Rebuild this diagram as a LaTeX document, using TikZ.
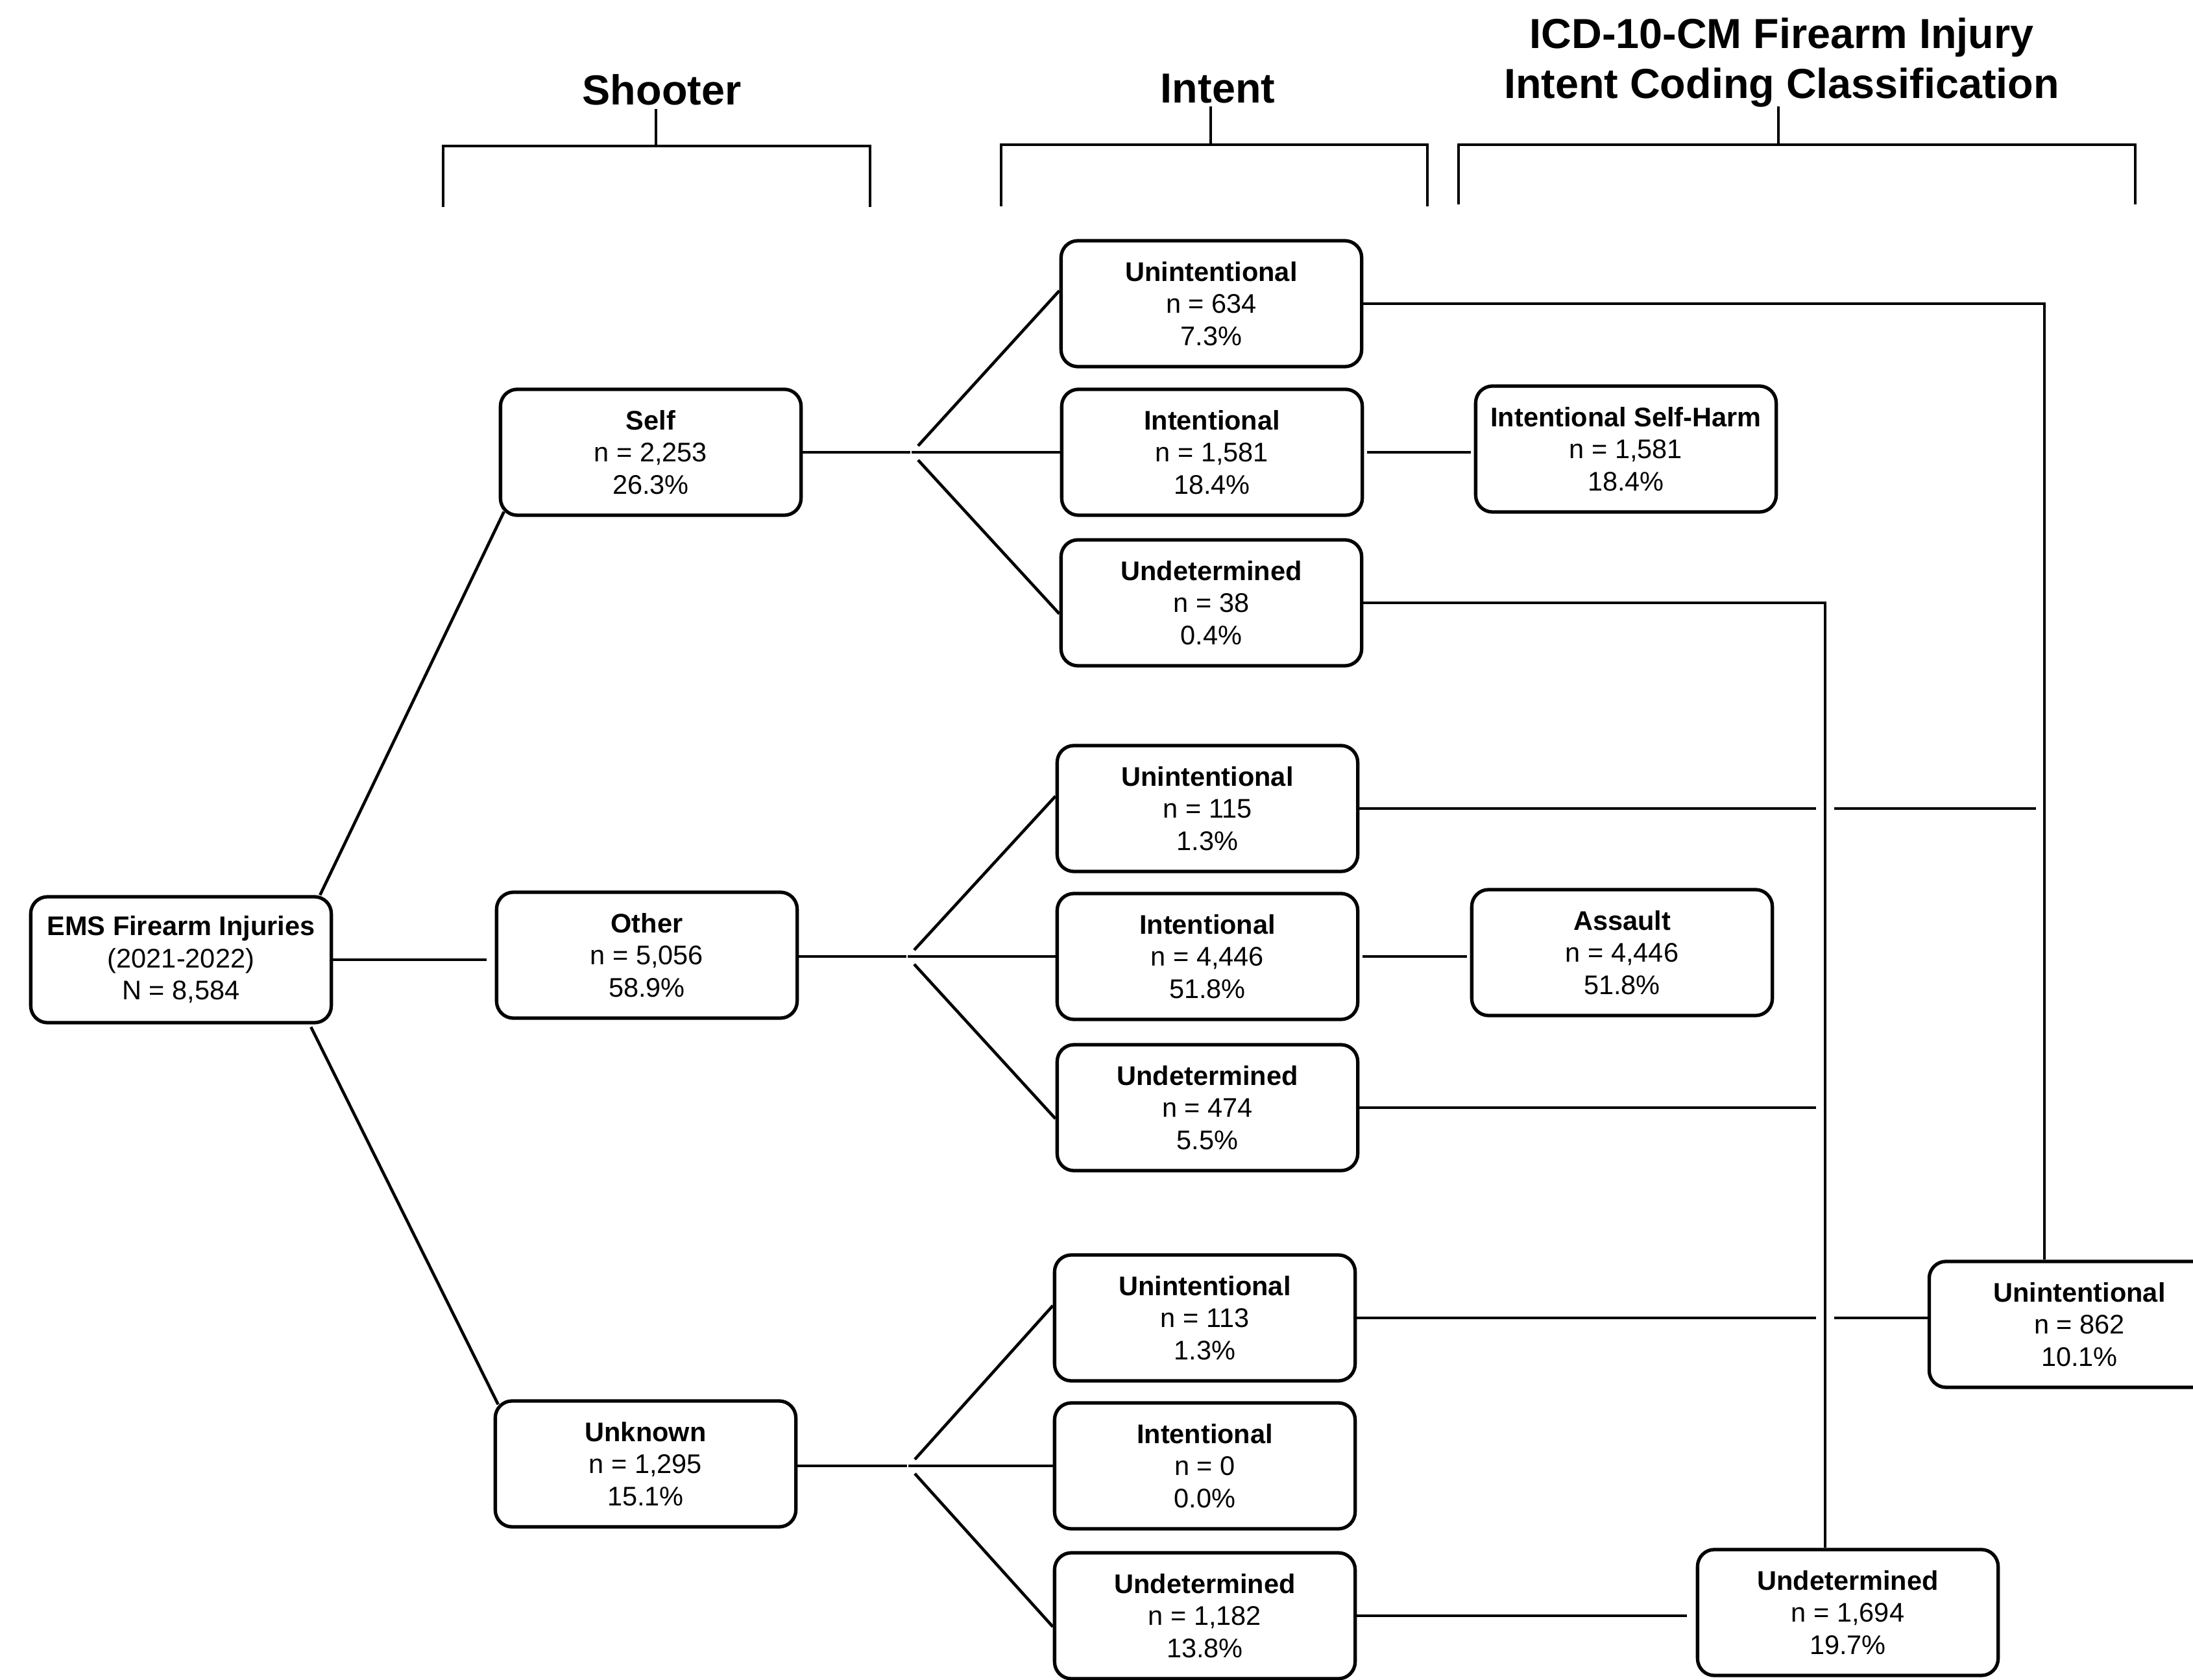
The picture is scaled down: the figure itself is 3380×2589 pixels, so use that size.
\documentclass[tikz,border=0pt]{standalone}
\usepackage{fontspec}
\setmainfont{Liberation Sans}
\usetikzlibrary{calc}
\begin{document}
\begin{tikzpicture}[x=0.01cm,y=-0.01cm,
  box/.style={draw, rounded corners=0.26cm, line width=1.5pt, minimum width=4.63cm, minimum height=1.94cm, align=center, inner sep=0pt, font=\fontsize{11.8}{14.1}\selectfont},
  conn/.style={line width=1.3pt},
  brk/.style={line width=1.4pt},
  hdr/.style={font=\bfseries\fontsize{18.4}{21.9}\selectfont, align=center, anchor=base, inner sep=0pt}]
\useasboundingbox (0,0) rectangle (3380,2589);
% headers
\node[hdr] (hshooter) at (1020,162) {Shooter};
\node[hdr] (hintent) at (1877,159) {Intent};
\node[hdr] (hicd) at (2746,152) {ICD-10-CM Firearm Injury\\Intent Coding Classification};
\draw[brk] (683,319) -- (683,225) -- (1341,225) -- (1341,319);
\draw[brk] (1011,168) -- (1011,225);
\draw[brk] (1543,318) -- (1543,223) -- (2200,223) -- (2200,318);
\draw[brk] (1866,164) -- (1866,223);
\draw[brk] (2248,315) -- (2248,223) -- (3291,223) -- (3291,315);
\draw[brk] (2741,164) -- (2741,223);
% nodes
\node[box] (root) at (279,1479) {\textbf{EMS Firearm Injuries}\\(2021-2022)\\N = 8,584};
\node[box] (self) at (1003,697) {\textbf{Self}\\n = 2,253\\26.3\%};
\node[box] (other) at (997,1472) {\textbf{Other}\\n = 5,056\\58.9\%};
\node[box] (unknown) at (995,2256) {\textbf{Unknown}\\n = 1,295\\15.1\%};
\node[box] (su) at (1867,468) {\textbf{Unintentional}\\n = 634\\7.3\%};
\node[box] (si) at (1868,697) {\textbf{Intentional}\\n = 1,581\\18.4\%};
\node[box] (sd) at (1867,929) {\textbf{Undetermined}\\n = 38\\0.4\%};
\node[box] (ou) at (1861,1246) {\textbf{Unintentional}\\n = 115\\1.3\%};
\node[box] (oi) at (1861,1474) {\textbf{Intentional}\\n = 4,446\\51.8\%};
\node[box] (od) at (1861,1707) {\textbf{Undetermined}\\n = 474\\5.5\%};
\node[box] (ku) at (1857,2031) {\textbf{Unintentional}\\n = 113\\1.3\%};
\node[box] (ki) at (1857,2259) {\textbf{Intentional}\\n = 0\\0.0\%};
\node[box] (kd) at (1857,2490) {\textbf{Undetermined}\\n = 1,182\\13.8\%};
\node[box] (harm) at (2506,692) {\textbf{Intentional Self-Harm}\\n = 1,581\\18.4\%};
\node[box] (assault) at (2500,1468) {\textbf{Assault}\\n = 4,446\\51.8\%};
\node[box] (u862) at (3205,2041) {\textbf{Unintentional}\\n = 862\\10.1\%};
\node[box] (und) at (2848,2485) {\textbf{Undetermined}\\n = 1,694\\19.7\%};
% root connectors
\draw[conn] ($(root.north east)+(-20,0)$) -- ($(self.south west)+(8,-8)$);
\draw[conn, shorten >=0.13cm] (root.east) -- (root.east -| other.west);
\draw[conn] ($(root.south east)+(-34,4)$) -- ($(unknown.north west)+(7,8)$);
% forks
\coordinate (j1) at (1414,697);
\coordinate (j2) at (1408,1474);
\coordinate (j3) at (1409,2259);
\draw[conn] (self.east) -- ($(j1)+(-11,0)$);
\draw[conn] ($(j1)+(-9,0)$) -- (si.west);
\draw[conn] ($(j1)+(1,-10)$) -- ($(su.west)+(0,-20)$);
\draw[conn] ($(j1)+(1,12)$) -- ($(sd.west)+(0,17)$);
\draw[conn] (j2 -| other.east) -- ($(j2)+(-11,0)$);
\draw[conn] ($(j2)+(-9,0)$) -- (oi.west);
\draw[conn] ($(j2)+(1,-10)$) -- ($(ou.west)+(0,-19)$);
\draw[conn] ($(j2)+(1,12)$) -- ($(od.west)+(0,17)$);
\draw[conn] (j3 -| unknown.east) -- ($(j3)+(-11,0)$);
\draw[conn] ($(j3)+(-9,0)$) -- (ki.west);
\draw[conn] ($(j3)+(1,-10)$) -- ($(ku.west)+(0,-19)$);
\draw[conn] ($(j3)+(1,12)$) -- ($(kd.west)+(0,17)$);
% right side
\coordinate (v1) at (2813,925);
\coordinate (v2) at (3151,466);
\draw[conn, shorten <=0.05cm, shorten >=0.05cm] (si.east) -- (si.east -| harm.west);
\draw[conn, shorten <=0.05cm, shorten >=0.05cm] (oi.east) -- (oi.east -| assault.west);
\draw[conn] (su.east) -- (su.east -| v2) -- (v2 |- u862.north);
\draw[conn] (sd.east) -- (sd.east -| v1) -- (v1 |- und.north);
\draw[conn] (ou.east) -- ($(ou.east -| v1)+(-14,0)$);
\draw[conn] ($(ou.east -| v1)+(14,0)$) -- ($(ou.east -| v2)+(-13,0)$);
\draw[conn] (od.east) -- ($(od.east -| v1)+(-14,0)$);
\draw[conn] (ku.east) -- ($(ku.east -| v1)+(-14,0)$);
\draw[conn] ($(ku.east -| v1)+(14,0)$) -- (ku.east -| u862.west);
\draw[conn, shorten >=0.14cm] (kd.east) -- (kd.east -| und.west);
\end{tikzpicture}
\end{document}
